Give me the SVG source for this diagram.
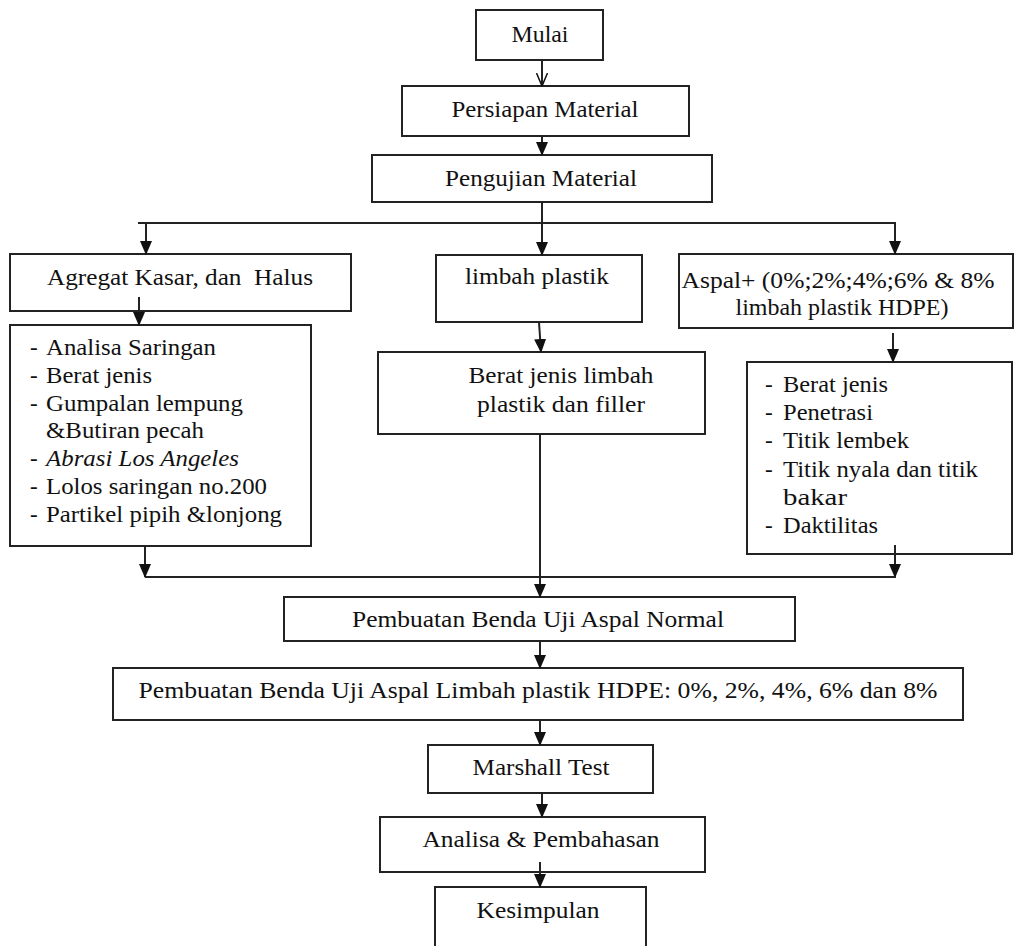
<svg xmlns="http://www.w3.org/2000/svg" width="1014" height="946" viewBox="0 0 1014 946">
<defs>
<style>
.box{fill:#fff;stroke:#222;stroke-width:2}
text{font-family:"Liberation Serif","DejaVu Serif","Noto Serif",serif;font-size:23px;fill:#111}
.c{text-anchor:middle}
.ln{fill:none;stroke:#222;stroke-width:2}
</style>
<marker id="ahd" markerWidth="14" markerHeight="12" refX="13" refY="6" orient="auto" markerUnits="userSpaceOnUse" viewBox="0 0 14 12">
<path d="M0,0 L14,6 L0,12 Z" fill="#111"/>
</marker>
<marker id="aho" markerWidth="14" markerHeight="12" refX="13" refY="6" orient="auto" markerUnits="userSpaceOnUse" viewBox="0 0 14 12">
<path d="M0,0.5 L13,6 L0,11.5" fill="none" stroke="#111" stroke-width="1.5"/>
</marker>
</defs>
<rect width="1014" height="946" fill="#fff"/>

<g id="n-mulai"><rect class="box" x="476" y="10" width="127" height="50"/><text class="c" x="540" y="42" textLength="57" lengthAdjust="spacingAndGlyphs">Mulai</text></g>
<g id="n-persiapan"><rect class="box" x="402" y="86" width="287" height="50"/><text class="c" x="545" y="117" textLength="187" lengthAdjust="spacingAndGlyphs">Persiapan Material</text></g>
<g id="n-pengujian"><rect class="box" x="372" y="155" width="340" height="47"/><text class="c" x="541" y="186" textLength="192" lengthAdjust="spacingAndGlyphs">Pengujian Material</text></g>
<g id="n-agregat"><rect class="box" x="10" y="254" width="341" height="57"/><text class="c" x="180" y="285" xml:space="preserve" textLength="266" lengthAdjust="spacingAndGlyphs">Agregat Kasar, dan  Halus</text></g>
<g id="n-limbah"><rect class="box" x="436" y="255" width="206" height="67"/><text class="c" x="537" y="284" textLength="144" lengthAdjust="spacingAndGlyphs">limbah plastik</text></g>
<g id="n-aspal"><rect class="box" x="679" y="254" width="334" height="74"/><text class="c" x="838" y="288" textLength="313" lengthAdjust="spacingAndGlyphs">Aspal+ (0%;2%;4%;6% &amp; 8%</text><text class="c" x="842" y="315" textLength="213" lengthAdjust="spacingAndGlyphs">limbah plastik HDPE)</text></g>
<g id="n-uji-agregat"><rect class="box" x="10" y="325" width="301" height="221"/>
<text x="30" y="355">-</text><text x="46" y="355" textLength="170" lengthAdjust="spacingAndGlyphs">Analisa Saringan</text>
<text x="30" y="383">-</text><text x="46" y="383" textLength="106" lengthAdjust="spacingAndGlyphs">Berat jenis</text>
<text x="30" y="411">-</text><text x="46" y="411" textLength="197" lengthAdjust="spacingAndGlyphs">Gumpalan lempung</text>
<text x="46" y="438" textLength="158" lengthAdjust="spacingAndGlyphs">&amp;Butiran pecah</text>
<text x="30" y="466">-</text><text x="46" y="466" font-style="italic" textLength="193" lengthAdjust="spacingAndGlyphs">Abrasi Los Angeles</text>
<text x="30" y="494">-</text><text x="46" y="494" textLength="221" lengthAdjust="spacingAndGlyphs">Lolos saringan no.200</text>
<text x="30" y="522">-</text><text x="46" y="522" textLength="236" lengthAdjust="spacingAndGlyphs">Partikel pipih &amp;lonjong</text>
</g>
<g id="n-berat"><rect class="box" x="378" y="352" width="327" height="82"/><text class="c" x="561" y="383" textLength="185" lengthAdjust="spacingAndGlyphs">Berat jenis limbah</text><text class="c" x="561" y="412" textLength="168" lengthAdjust="spacingAndGlyphs">plastik dan filler</text></g>
<g id="n-uji-aspal"><rect class="box" x="747" y="362" width="265" height="192"/>
<text x="765" y="392">-</text><text x="783" y="392" textLength="105" lengthAdjust="spacingAndGlyphs">Berat jenis</text>
<text x="765" y="420">-</text><text x="783" y="420" textLength="90" lengthAdjust="spacingAndGlyphs">Penetrasi</text>
<text x="765" y="448">-</text><text x="783" y="448" textLength="126" lengthAdjust="spacingAndGlyphs">Titik lembek</text>
<text x="765" y="477">-</text><text x="783" y="477" textLength="195" lengthAdjust="spacingAndGlyphs">Titik nyala dan titik</text>
<text x="783" y="505" textLength="64" lengthAdjust="spacingAndGlyphs">bakar</text>
<text x="765" y="533">-</text><text x="783" y="533" textLength="95" lengthAdjust="spacingAndGlyphs">Daktilitas</text>
</g>
<g id="n-normal"><rect class="box" x="284" y="597" width="511" height="44"/><text class="c" x="538" y="627" textLength="372" lengthAdjust="spacingAndGlyphs">Pembuatan Benda Uji Aspal Normal</text></g>
<g id="n-hdpe"><rect class="box" x="113" y="668" width="850" height="52"/><text class="c" x="538" y="698" textLength="799" lengthAdjust="spacingAndGlyphs">Pembuatan Benda Uji Aspal Limbah plastik HDPE: 0%, 2%, 4%, 6% dan 8%</text></g>
<g id="n-marshall"><rect class="box" x="428" y="745" width="225" height="48"/><text class="c" x="541" y="775" textLength="137" lengthAdjust="spacingAndGlyphs">Marshall Test</text></g>
<g id="n-analisa"><rect class="box" x="380" y="817" width="325" height="55"/><text class="c" x="541" y="847" textLength="237" lengthAdjust="spacingAndGlyphs">Analisa &amp; Pembahasan</text></g>
<g id="n-kesimpulan"><rect class="box" x="435" y="887" width="211" height="70"/><text class="c" x="538" y="918" textLength="123" lengthAdjust="spacingAndGlyphs">Kesimpulan</text></g>

<g id="connectors">
<line class="ln" x1="542" y1="60" x2="542" y2="86" marker-end="url(#aho)"/>
<line class="ln" x1="542" y1="136" x2="542" y2="155" marker-end="url(#ahd)"/>
<line class="ln" x1="542" y1="202" x2="542" y2="255" marker-end="url(#ahd)"/>
<line class="ln" x1="138" y1="223" x2="896" y2="223"/>
<line class="ln" x1="146" y1="223" x2="146" y2="254" marker-end="url(#ahd)"/>
<line class="ln" x1="895" y1="223" x2="895" y2="254" marker-end="url(#ahd)"/>
<line class="ln" x1="139" y1="297" x2="139" y2="325" marker-end="url(#ahd)"/>
<line class="ln" x1="539" y1="322" x2="541" y2="352" marker-end="url(#ahd)"/>
<line class="ln" x1="893" y1="333" x2="893" y2="362" marker-end="url(#ahd)"/>
<line class="ln" x1="145" y1="546" x2="145" y2="577" marker-end="url(#ahd)"/>
<line class="ln" x1="895" y1="545" x2="895" y2="577" marker-end="url(#ahd)"/>
<line class="ln" x1="145" y1="577" x2="896" y2="577"/>
<line class="ln" x1="540" y1="434" x2="540" y2="597" marker-end="url(#ahd)"/>
<line class="ln" x1="540" y1="641" x2="540" y2="668" marker-end="url(#ahd)"/>
<line class="ln" x1="540" y1="720" x2="540" y2="745" marker-end="url(#ahd)"/>
<line class="ln" x1="542" y1="793" x2="542" y2="817" marker-end="url(#ahd)"/>
<line class="ln" x1="540" y1="862" x2="540" y2="887" marker-end="url(#ahd)"/>
</g>
</svg>
